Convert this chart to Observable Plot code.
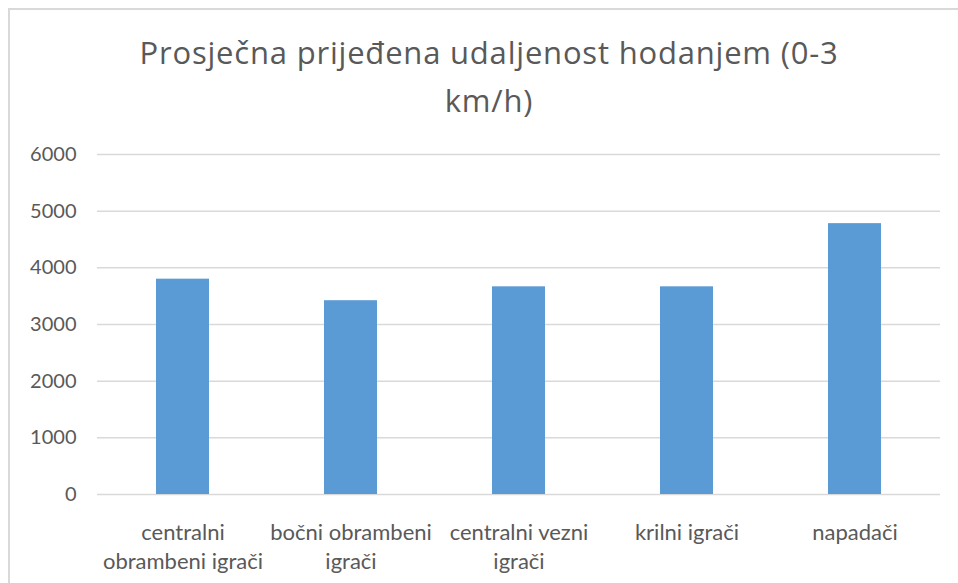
<!DOCTYPE html>
<html>
<head>
<meta charset="utf-8">
<script src="https://cdn.jsdelivr.net/npm/d3@7"></script>
<script src="https://cdn.jsdelivr.net/npm/@observablehq/plot@0.6"></script>
<style>
  html, body { margin: 0; padding: 0; background: #fff; }
  #wrap { position: relative; width: 958px; height: 583px; overflow: hidden; }
  #frame { position: absolute; left: 8px; top: 8px; width: 1000px; height: 640px; border: 2px solid #d9d9d9; box-sizing: border-box; }
  #title { position: absolute; left: 0; width: 978px; top: 28px; text-align: center; font-family: "Open Sans", sans-serif; font-size: 31px; letter-spacing: 0.8px; line-height: 48px; color: #595959; white-space: nowrap; }
  #chart { position: absolute; left: 0; top: 0; }
</style>
</head>
<body>
<div id="wrap">
  <div id="frame"></div>
  <div id="chart"></div>
  <div id="title">Prosječna prijeđena udaljenost hodanjem (0-3<br>km/h)</div>
</div>
<script>
const categories = ["centralni obrambeni igrači", "bočni obrambeni igrači", "centralni vezni igrači", "krilni igrači", "napadači"];
const labels = ["centralni\nobrambeni igrači", "bočni obrambeni\nigrači", "centralni vezni\nigrači", "krilni igrači", "napadači"];
const values = [3800, 3420, 3665, 3665, 4780];
const yTicks = [0, 1000, 2000, 3000, 4000, 5000, 6000];

const data = categories.map((c, i) => ({category: c, label: labels[i], value: values[i]}));

const chart = Plot.plot({
  width: 958,
  height: 583,
  marginTop: 154,
  marginBottom: 89,
  marginLeft: 97,
  marginRight: 18,
  style: {fontFamily: "Lato, sans-serif", fontSize: "20px", color: "#595959", background: "transparent"},
  x: {domain: categories, paddingInner: 0.685, paddingOuter: 0.3425, align: 0.5, axis: null},
  y: {domain: [0, 6000], axis: null},
  marks: [
    Plot.gridY(yTicks, {stroke: "#d9d9d9", strokeOpacity: 1, strokeWidth: 1.5}),
    Plot.barY(data, {x: "category", y: "value", fill: "#5b9bd5"}),
    Plot.axisY(yTicks, {label: null, tickSize: 0, tickPadding: 21, fill: "#595959", fontSize: 20, tickFormat: d => String(d)}),
    Plot.text(data, {x: "category", frameAnchor: "bottom", dy: 25, lineAnchor: "top", text: "label", lineHeight: 1.32, fill: "#595959", fontSize: 22})
  ]
});
document.getElementById("chart").appendChild(chart);
</script>
</body>
</html>
